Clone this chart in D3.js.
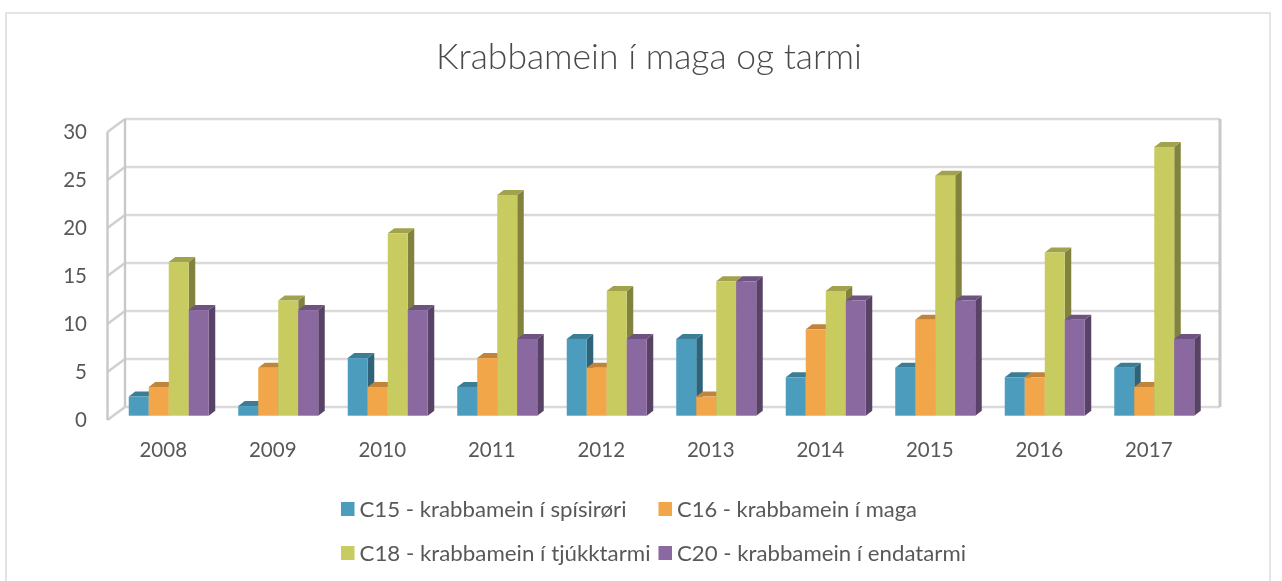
<!DOCTYPE html>
<html><head><meta charset="utf-8">
<script src="https://cdn.jsdelivr.net/npm/d3@7"></script>
<style>html,body{margin:0;padding:0;background:#fff;overflow:hidden}svg{display:block}text{font-family:Lato,"Open Sans",sans-serif;fill:#595959}</style>
</head><body><svg id="c" width="1282" height="581"></svg>
<script>
const years=["2008","2009","2010","2011","2012","2013","2014","2015","2016","2017"];
const c15=[2,1,6,3,8,8,4,5,4,5];
const c16=[3,5,3,6,5,2,9,10,4,3];
const c18=[16,12,19,23,13,14,13,25,17,28];
const c20=[11,11,11,8,8,14,12,12,10,8];
const seriesNames=["C15 - krabbamein í spísirøri","C16 - krabbamein í maga","C18 - krabbamein í tjúkktarmi","C20 - krabbamein í endatarmi"];
const seriesValues=[c15,c16,c18,c20];
const front=["#4b9cbd","#f0a648","#c8cb60","#8a67a0"];
const topC=["#3b7d97","#c0843a","#a0a24d","#6e5280"];
const sideC=["#2f6479","#9a6a2e","#80823e","#584266"];
const yTicks=[0,5,10,15,20,25,30];

const svg=d3.select("#c");
const defs=svg.append("defs");
defs.append("filter").attr("id","soft").append("feGaussianBlur").attr("stdDeviation",0.35);
const root=svg.append("g").attr("filter","url(#soft)");
root.append("rect").attr("width",1282).attr("height",581).attr("fill","#fff");
// chart frame
root.append("rect").attr("x",6).attr("y",13).attr("width",1264).attr("height",600).attr("fill","#fff").attr("stroke","#dcdcdc").attr("stroke-width",1.5);
root.append("text").attr("x",649).attr("y",69).attr("text-anchor","middle").attr("font-size",34.5).attr("font-weight",300).style("fill","#4a4a4a")
  .attr("textLength",426).attr("lengthAdjust","spacingAndGlyphs").text("Krabbamein í maga og tarmi");

const dx=17.5,dy=-13, bdx=6.5,bdy=-5;
const y=d3.scaleLinear().domain([0,30]).range([420,132]);
const x=d3.scaleBand().domain(years).range([107.5,1202.5]);
const barW=20;
const base=415.7;
const unit=y(0)-y(1);
// walls
const g=root.append("g").attr("fill","none").attr("stroke","#dadada").attr("stroke-width",2.4);
yTicks.forEach(t=>{
  g.append("line").attr("x1",107.5+dx).attr("x2",1202.5+dx).attr("y1",y(t)+dy).attr("y2",y(t)+dy);
  g.append("line").attr("x1",107.5).attr("x2",107.5+dx).attr("y1",y(t)).attr("y2",y(t)+dy).attr("stroke","#cfcfcf");
});
g.append("line").attr("x1",107.5).attr("x2",107.5).attr("y1",y(0)).attr("y2",y(30)).attr("stroke","#c8c8c8");
g.append("line").attr("x1",107.5+dx).attr("x2",107.5+dx).attr("y1",y(0)+dy).attr("y2",y(30)+dy).attr("stroke","#c8c8c8");
g.append("line").attr("x1",1202.5+dx).attr("x2",1202.5+dx).attr("y1",y(0)+dy).attr("y2",y(30)+dy).attr("stroke","#c8c8c8").attr("stroke-width",3);
// axis labels
root.append("g").selectAll("text").data(yTicks).join("text")
  .attr("x",87).attr("y",d=>y(d)+7).attr("text-anchor","end").attr("font-size",20.5).text(d=>d);
root.append("g").selectAll("text").data(years).join("text")
  .attr("x",d=>x(d)+x.bandwidth()/2+1).attr("y",457).attr("text-anchor","middle").attr("font-size",20.5).text(d=>d);
// bars
years.forEach((yr,i)=>{
  const x0=x(yr)+x.bandwidth()/2+6.5-2*barW;
  seriesValues.forEach((vals,s)=>{
    const h=vals[i]*unit, l=x0+s*barW, r=l+barW, t=base-h;
    const bg=root.append("g");
    bg.append("polygon").attr("fill",sideC[s]).attr("points",[[r,t],[r+bdx,t+bdy],[r+bdx,base+bdy],[r,base]].join(" "));
    bg.append("polygon").attr("fill",topC[s]).attr("points",[[l,t],[l+bdx,t+bdy],[r+bdx,t+bdy],[r,t]].join(" "));
    bg.append("rect").attr("x",l).attr("y",t).attr("width",barW).attr("height",h).attr("fill",front[s]);
  });
});
// legend
const lx=[341,658.5,341,658.5], ly=[502,502,546,546], lw=[267,240,291,289];
seriesNames.forEach((n,i)=>{
  root.append("rect").attr("x",lx[i]).attr("y",ly[i]).attr("width",13.5).attr("height",14).attr("fill",front[i]);
  root.append("text").attr("x",lx[i]+18.5).attr("y",ly[i]+14.5).attr("font-size",21.5)
    .attr("textLength",lw[i]).attr("lengthAdjust","spacingAndGlyphs").text(n);
});
</script></body></html>
